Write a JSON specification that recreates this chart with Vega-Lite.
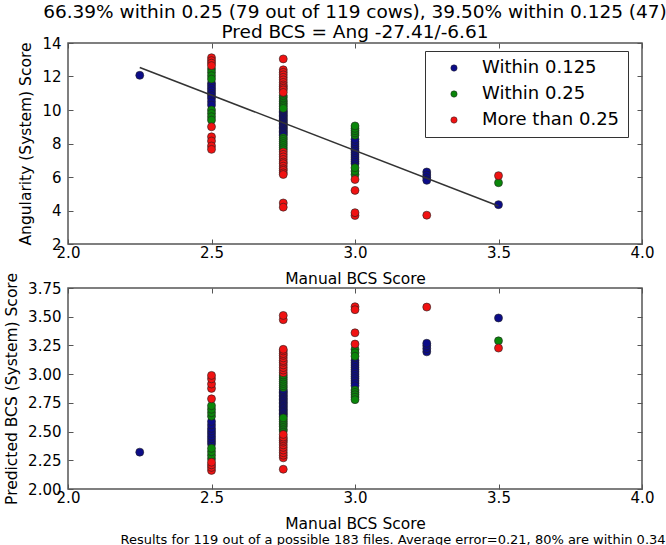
{
  "$schema": "https://vega.github.io/schema/vega-lite/v6.json",
  "padding": {"left": 3, "top": 1, "right": 5, "bottom": 3},
  "config": {
    "font": "DejaVu Sans",
    "view": {"stroke": "#555", "strokeWidth": 1.5},
    "axis": {"grid": false, "domain": false, "tickSize": -5, "tickColor": "#555", "tickWidth": 1, "labelFontSize": 15, "labelColor": "#000", "titleFontSize": 15.5, "titleFontWeight": "normal", "titleColor": "#000", "labelFlush": false, "labelOverlap": false},
    "axisX": {"labelPadding": 6, "titlePadding": 11},
    "axisY": {"labelPadding": 12, "titlePadding": 8},
    "title": {"fontSize": 18.5, "fontWeight": "normal", "color": "#000", "font": "DejaVu Sans"}
  },
  "datasets": {
    "cows": [
      {"manual": 2.25, "ang": 12.07, "pred": 2.321, "cat": "Within 0.125"},
      {"manual": 2.5, "ang": 11.6, "pred": 2.392, "cat": "Within 0.125"},
      {"manual": 2.5, "ang": 11.45, "pred": 2.415, "cat": "Within 0.125"},
      {"manual": 2.5, "ang": 11.3, "pred": 2.437, "cat": "Within 0.125"},
      {"manual": 2.5, "ang": 11.15, "pred": 2.46, "cat": "Within 0.125"},
      {"manual": 2.5, "ang": 11.0, "pred": 2.483, "cat": "Within 0.125"},
      {"manual": 2.5, "ang": 10.85, "pred": 2.505, "cat": "Within 0.125"},
      {"manual": 2.5, "ang": 10.7, "pred": 2.528, "cat": "Within 0.125"},
      {"manual": 2.5, "ang": 10.5, "pred": 2.558, "cat": "Within 0.125"},
      {"manual": 2.5, "ang": 10.3, "pred": 2.588, "cat": "Within 0.125"},
      {"manual": 2.75, "ang": 10.0, "pred": 2.634, "cat": "Within 0.125"},
      {"manual": 2.75, "ang": 9.92, "pred": 2.646, "cat": "Within 0.125"},
      {"manual": 2.75, "ang": 9.84, "pred": 2.658, "cat": "Within 0.125"},
      {"manual": 2.75, "ang": 9.76, "pred": 2.67, "cat": "Within 0.125"},
      {"manual": 2.75, "ang": 9.68, "pred": 2.682, "cat": "Within 0.125"},
      {"manual": 2.75, "ang": 9.6, "pred": 2.694, "cat": "Within 0.125"},
      {"manual": 2.75, "ang": 9.52, "pred": 2.706, "cat": "Within 0.125"},
      {"manual": 2.75, "ang": 9.44, "pred": 2.719, "cat": "Within 0.125"},
      {"manual": 2.75, "ang": 9.36, "pred": 2.731, "cat": "Within 0.125"},
      {"manual": 2.75, "ang": 9.28, "pred": 2.743, "cat": "Within 0.125"},
      {"manual": 2.75, "ang": 9.2, "pred": 2.755, "cat": "Within 0.125"},
      {"manual": 2.75, "ang": 9.12, "pred": 2.767, "cat": "Within 0.125"},
      {"manual": 2.75, "ang": 9.04, "pred": 2.779, "cat": "Within 0.125"},
      {"manual": 2.75, "ang": 8.96, "pred": 2.791, "cat": "Within 0.125"},
      {"manual": 2.75, "ang": 8.88, "pred": 2.803, "cat": "Within 0.125"},
      {"manual": 2.75, "ang": 8.8, "pred": 2.815, "cat": "Within 0.125"},
      {"manual": 2.75, "ang": 8.72, "pred": 2.828, "cat": "Within 0.125"},
      {"manual": 2.75, "ang": 8.64, "pred": 2.84, "cat": "Within 0.125"},
      {"manual": 2.75, "ang": 8.56, "pred": 2.852, "cat": "Within 0.125"},
      {"manual": 2.75, "ang": 8.48, "pred": 2.864, "cat": "Within 0.125"},
      {"manual": 3.0, "ang": 6.8, "pred": 3.118, "cat": "Within 0.125"},
      {"manual": 3.0, "ang": 6.93, "pred": 3.098, "cat": "Within 0.125"},
      {"manual": 3.0, "ang": 7.06, "pred": 3.079, "cat": "Within 0.125"},
      {"manual": 3.0, "ang": 7.19, "pred": 3.059, "cat": "Within 0.125"},
      {"manual": 3.0, "ang": 7.32, "pred": 3.039, "cat": "Within 0.125"},
      {"manual": 3.0, "ang": 7.45, "pred": 3.02, "cat": "Within 0.125"},
      {"manual": 3.0, "ang": 7.58, "pred": 3.0, "cat": "Within 0.125"},
      {"manual": 3.0, "ang": 7.71, "pred": 2.98, "cat": "Within 0.125"},
      {"manual": 3.0, "ang": 7.84, "pred": 2.961, "cat": "Within 0.125"},
      {"manual": 3.0, "ang": 7.97, "pred": 2.941, "cat": "Within 0.125"},
      {"manual": 3.0, "ang": 8.1, "pred": 2.921, "cat": "Within 0.125"},
      {"manual": 3.0, "ang": 8.25, "pred": 2.899, "cat": "Within 0.125"},
      {"manual": 3.25, "ang": 6.3, "pred": 3.194, "cat": "Within 0.125"},
      {"manual": 3.25, "ang": 6.12, "pred": 3.221, "cat": "Within 0.125"},
      {"manual": 3.25, "ang": 5.95, "pred": 3.247, "cat": "Within 0.125"},
      {"manual": 3.25, "ang": 5.8, "pred": 3.269, "cat": "Within 0.125"},
      {"manual": 3.5, "ang": 4.35, "pred": 3.489, "cat": "Within 0.125"},
      {"manual": 2.5, "ang": 12.45, "pred": 2.263, "cat": "Within 0.25"},
      {"manual": 2.5, "ang": 12.25, "pred": 2.294, "cat": "Within 0.25"},
      {"manual": 2.5, "ang": 12.05, "pred": 2.324, "cat": "Within 0.25"},
      {"manual": 2.5, "ang": 11.85, "pred": 2.354, "cat": "Within 0.25"},
      {"manual": 2.5, "ang": 10.0, "pred": 2.634, "cat": "Within 0.25"},
      {"manual": 2.5, "ang": 9.8, "pred": 2.664, "cat": "Within 0.25"},
      {"manual": 2.5, "ang": 9.6, "pred": 2.694, "cat": "Within 0.25"},
      {"manual": 2.5, "ang": 9.4, "pred": 2.725, "cat": "Within 0.25"},
      {"manual": 2.75, "ang": 10.85, "pred": 2.505, "cat": "Within 0.25"},
      {"manual": 2.75, "ang": 10.75, "pred": 2.52, "cat": "Within 0.25"},
      {"manual": 2.75, "ang": 10.6, "pred": 2.543, "cat": "Within 0.25"},
      {"manual": 2.75, "ang": 10.5, "pred": 2.558, "cat": "Within 0.25"},
      {"manual": 2.75, "ang": 10.4, "pred": 2.573, "cat": "Within 0.25"},
      {"manual": 2.75, "ang": 10.3, "pred": 2.588, "cat": "Within 0.25"},
      {"manual": 2.75, "ang": 10.2, "pred": 2.604, "cat": "Within 0.25"},
      {"manual": 2.75, "ang": 10.1, "pred": 2.619, "cat": "Within 0.25"},
      {"manual": 2.75, "ang": 8.35, "pred": 2.883, "cat": "Within 0.25"},
      {"manual": 2.75, "ang": 8.25, "pred": 2.899, "cat": "Within 0.25"},
      {"manual": 2.75, "ang": 8.12, "pred": 2.918, "cat": "Within 0.25"},
      {"manual": 2.75, "ang": 8.0, "pred": 2.936, "cat": "Within 0.25"},
      {"manual": 2.75, "ang": 7.88, "pred": 2.955, "cat": "Within 0.25"},
      {"manual": 2.75, "ang": 7.75, "pred": 2.974, "cat": "Within 0.25"},
      {"manual": 2.75, "ang": 7.63, "pred": 2.992, "cat": "Within 0.25"},
      {"manual": 3.0, "ang": 6.15, "pred": 3.216, "cat": "Within 0.25"},
      {"manual": 3.0, "ang": 6.35, "pred": 3.186, "cat": "Within 0.25"},
      {"manual": 3.0, "ang": 6.55, "pred": 3.156, "cat": "Within 0.25"},
      {"manual": 3.0, "ang": 8.5, "pred": 2.861, "cat": "Within 0.25"},
      {"manual": 3.0, "ang": 8.63, "pred": 2.841, "cat": "Within 0.25"},
      {"manual": 3.0, "ang": 8.76, "pred": 2.821, "cat": "Within 0.25"},
      {"manual": 3.0, "ang": 8.9, "pred": 2.8, "cat": "Within 0.25"},
      {"manual": 3.0, "ang": 9.05, "pred": 2.778, "cat": "Within 0.25"},
      {"manual": 3.5, "ang": 5.66, "pred": 3.29, "cat": "Within 0.25"},
      {"manual": 2.5, "ang": 13.12, "pred": 2.162, "cat": "More than 0.25"},
      {"manual": 2.5, "ang": 12.95, "pred": 2.188, "cat": "More than 0.25"},
      {"manual": 2.5, "ang": 12.8, "pred": 2.21, "cat": "More than 0.25"},
      {"manual": 2.5, "ang": 12.65, "pred": 2.233, "cat": "More than 0.25"},
      {"manual": 2.5, "ang": 9.0, "pred": 2.785, "cat": "More than 0.25"},
      {"manual": 2.5, "ang": 8.4, "pred": 2.876, "cat": "More than 0.25"},
      {"manual": 2.5, "ang": 8.15, "pred": 2.914, "cat": "More than 0.25"},
      {"manual": 2.5, "ang": 7.85, "pred": 2.959, "cat": "More than 0.25"},
      {"manual": 2.5, "ang": 7.65, "pred": 2.989, "cat": "More than 0.25"},
      {"manual": 2.75, "ang": 13.05, "pred": 2.172, "cat": "More than 0.25"},
      {"manual": 2.75, "ang": 12.4, "pred": 2.271, "cat": "More than 0.25"},
      {"manual": 2.75, "ang": 12.25, "pred": 2.294, "cat": "More than 0.25"},
      {"manual": 2.75, "ang": 12.1, "pred": 2.316, "cat": "More than 0.25"},
      {"manual": 2.75, "ang": 11.95, "pred": 2.339, "cat": "More than 0.25"},
      {"manual": 2.75, "ang": 11.8, "pred": 2.362, "cat": "More than 0.25"},
      {"manual": 2.75, "ang": 11.65, "pred": 2.384, "cat": "More than 0.25"},
      {"manual": 2.75, "ang": 11.5, "pred": 2.407, "cat": "More than 0.25"},
      {"manual": 2.75, "ang": 11.4, "pred": 2.422, "cat": "More than 0.25"},
      {"manual": 2.75, "ang": 11.3, "pred": 2.437, "cat": "More than 0.25"},
      {"manual": 2.75, "ang": 11.2, "pred": 2.452, "cat": "More than 0.25"},
      {"manual": 2.75, "ang": 11.05, "pred": 2.475, "cat": "More than 0.25"},
      {"manual": 2.75, "ang": 7.5, "pred": 3.012, "cat": "More than 0.25"},
      {"manual": 2.75, "ang": 7.35, "pred": 3.035, "cat": "More than 0.25"},
      {"manual": 2.75, "ang": 7.2, "pred": 3.057, "cat": "More than 0.25"},
      {"manual": 2.75, "ang": 7.05, "pred": 3.08, "cat": "More than 0.25"},
      {"manual": 2.75, "ang": 6.9, "pred": 3.103, "cat": "More than 0.25"},
      {"manual": 2.75, "ang": 6.8, "pred": 3.118, "cat": "More than 0.25"},
      {"manual": 2.75, "ang": 6.65, "pred": 3.141, "cat": "More than 0.25"},
      {"manual": 2.75, "ang": 6.5, "pred": 3.163, "cat": "More than 0.25"},
      {"manual": 2.75, "ang": 6.4, "pred": 3.179, "cat": "More than 0.25"},
      {"manual": 2.75, "ang": 6.25, "pred": 3.201, "cat": "More than 0.25"},
      {"manual": 2.75, "ang": 6.15, "pred": 3.216, "cat": "More than 0.25"},
      {"manual": 2.75, "ang": 4.45, "pred": 3.474, "cat": "More than 0.25"},
      {"manual": 2.75, "ang": 4.2, "pred": 3.511, "cat": "More than 0.25"},
      {"manual": 3.0, "ang": 3.7, "pred": 3.587, "cat": "More than 0.25"},
      {"manual": 3.0, "ang": 3.87, "pred": 3.561, "cat": "More than 0.25"},
      {"manual": 3.0, "ang": 5.2, "pred": 3.36, "cat": "More than 0.25"},
      {"manual": 3.0, "ang": 5.85, "pred": 3.262, "cat": "More than 0.25"},
      {"manual": 3.25, "ang": 3.72, "pred": 3.584, "cat": "More than 0.25"},
      {"manual": 3.5, "ang": 6.08, "pred": 3.227, "cat": "More than 0.25"}
    ],
    "fit": [
      {"manual": 2.25, "ang": 12.54},
      {"manual": 3.5, "ang": 4.27}
    ]
  },
  "spacing": -21,
  "resolve": {"legend": {"color": "independent"}},
  "vconcat": [
    {
      "title": {"text": ["66.39% within 0.25 (79 out of 119 cows), 39.50% within 0.125 (47)", "Pred BCS = Ang -27.41/-6.61"], "lineHeight": 20, "offset": -5, "anchor": "middle"},
      "width": 574,
      "height": 201,
      "layer": [
        {
          "data": {"name": "cows"},
          "mark": {"type": "circle", "size": 64, "opacity": 1, "stroke": "#222", "strokeWidth": 0.6},
          "encoding": {
            "x": {"field": "manual", "type": "quantitative", "scale": {"domain": [2, 4], "nice": false, "zero": false}, "axis": {"values": [2, 2.5, 3, 3.5, 4], "format": ".1f", "title": "Manual BCS Score"}},
            "y": {"field": "ang", "type": "quantitative", "scale": {"domain": [2, 14], "nice": false, "zero": false}, "axis": {"values": [2, 4, 6, 8, 10, 12, 14], "format": "d", "title": "Angularity (System) Score"}},
            "color": {"field": "cat", "type": "nominal",
              "scale": {"domain": ["Within 0.125", "Within 0.25", "More than 0.25"], "range": ["#0c0c88", "#0a860a", "#f01212"]},
              "legend": {"orient": "none", "legendX": 357, "legendY": 8, "title": null, "direction": "vertical", "labelFontSize": 18, "labelColor": "#000", "symbolSize": 40, "symbolType": "circle", "symbolStrokeColor": "#222", "symbolStrokeWidth": 0.5, "strokeColor": "#333", "fillColor": "#fff", "padding": 8, "rowPadding": 8, "symbolOffset": 12, "labelOffset": 19}}
          }
        },
        {
          "data": {"name": "fit"},
          "mark": {"type": "line", "color": "#333", "strokeWidth": 1.5},
          "encoding": {
            "x": {"field": "manual", "type": "quantitative", "axis": {"orient": "top", "labels": false, "title": null, "values": [2, 2.5, 3, 3.5, 4]}},
            "y": {"field": "ang", "type": "quantitative", "axis": {"orient": "right", "labels": false, "title": null, "values": [2, 4, 6, 8, 10, 12, 14]}}
          }
        }
      ],
      "resolve": {"axis": {"x": "independent", "y": "independent"}}
    },
    {
      "title": {"text": "Results for 119 out of a possible 183 files. Average error=0.21, 80% are within 0.34", "orient": "bottom", "fontSize": 13, "dx": 38, "offset": 2, "anchor": "middle"},
      "width": 574,
      "height": 201,
      "layer": [
        {
          "data": {"name": "cows"},
          "mark": {"type": "circle", "size": 64, "opacity": 1, "stroke": "#222", "strokeWidth": 0.6},
          "encoding": {
            "x": {"field": "manual", "type": "quantitative", "scale": {"domain": [2, 4], "nice": false, "zero": false}, "axis": {"values": [2, 2.5, 3, 3.5, 4], "format": ".1f", "title": "Manual BCS Score"}},
            "y": {"field": "pred", "type": "quantitative", "scale": {"domain": [2, 3.75], "nice": false, "zero": false}, "axis": {"values": [2, 2.25, 2.5, 2.75, 3, 3.25, 3.5, 3.75], "format": ".2f", "title": "Predicted BCS (System) Score"}},
            "color": {"field": "cat", "type": "nominal", "scale": {"domain": ["Within 0.125", "Within 0.25", "More than 0.25"], "range": ["#0c0c88", "#0a860a", "#f01212"]}, "legend": null}
          }
        },
        {
          "data": {"name": "cows"},
          "mark": {"type": "point", "opacity": 0},
          "encoding": {
            "x": {"field": "manual", "type": "quantitative", "axis": {"orient": "top", "labels": false, "title": null, "values": [2, 2.5, 3, 3.5, 4]}},
            "y": {"field": "pred", "type": "quantitative", "axis": {"orient": "right", "labels": false, "title": null, "values": [2, 2.25, 2.5, 2.75, 3, 3.25, 3.5, 3.75]}}
          }
        }
      ],
      "resolve": {"axis": {"x": "independent", "y": "independent"}}
    }
  ]
}
